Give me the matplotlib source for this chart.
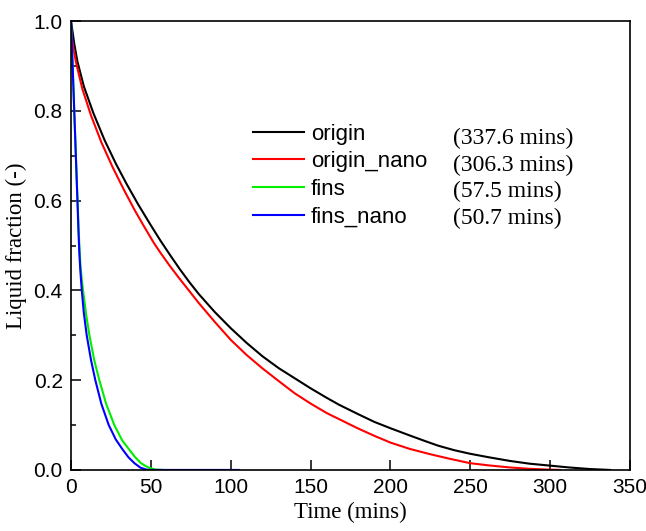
import matplotlib
matplotlib.use("Agg")
import matplotlib.pyplot as plt
from matplotlib.ticker import MultipleLocator

# liquid fraction vs time (mins)
origin_t = [0, 0.6, 2, 4, 8, 14, 21, 28, 35, 42, 50, 56, 62, 68, 74, 80, 90,
            100, 110, 120, 130, 142, 150, 160, 168, 180, 190, 200, 212, 222, 230,
            240, 250, 262, 275, 287, 300, 312, 325, 337.6]
origin_y = [1.0, 0.985, 0.95, 0.91, 0.855, 0.795, 0.735, 0.683, 0.636, 0.592, 0.545,
            0.511, 0.479, 0.448, 0.419, 0.392, 0.352, 0.316, 0.283, 0.253, 0.227,
            0.20, 0.182, 0.161, 0.145, 0.124, 0.107, 0.093, 0.077, 0.064, 0.054,
            0.044, 0.036, 0.028, 0.020, 0.014, 0.0096, 0.0055, 0.002, 0.0]

nano_t = [0, 0.5, 1.5, 3, 7, 12.5, 19, 26, 33, 40, 46, 52, 56, 62, 68, 80,
          90, 100, 110, 120, 129, 140, 150, 160, 168, 180, 190, 200, 212, 225, 237,
          250, 262, 275, 287, 297, 306.3]
nano_y = [0.98, 0.965, 0.94, 0.91, 0.85, 0.79, 0.73, 0.675, 0.625, 0.578, 0.541,
          0.505, 0.484, 0.454, 0.426, 0.372, 0.33, 0.29, 0.256, 0.226, 0.201,
          0.171, 0.148, 0.127, 0.113, 0.092, 0.076, 0.061, 0.047, 0.035, 0.025,
          0.015, 0.010, 0.0055, 0.0025, 0.001, 0.0]

fins_t = [0, 1, 2.7, 4, 5, 5.8, 6.7, 7.7, 9.5, 11.5, 14.5, 17.7, 22, 27.1, 32, 36.5,
          40, 43.8, 48, 52.6, 57.5]
fins_y = [1.0, 0.90, 0.73, 0.605, 0.515, 0.46, 0.425, 0.395, 0.345, 0.30, 0.245,
          0.20, 0.147, 0.10, 0.066, 0.045, 0.029, 0.015, 0.006, 0.001, 0.0]

fins_nano_t = [0, 1, 2.7, 4, 4.6, 5.2, 5.8, 6.7, 8, 9.8, 12.5, 15.2, 19, 23.6, 28,
               32.4, 36, 39.7, 43.5, 47.4, 50.7, 105]
fins_nano_y = [1.0, 0.90, 0.73, 0.60, 0.535, 0.483, 0.445, 0.401, 0.35, 0.30, 0.245,
               0.20, 0.147, 0.10, 0.068, 0.045, 0.028, 0.015, 0.005, 0.0005, 0.0, 0.0]

labels = ["origin", "origin_nano", "fins", "fins_nano"]
melt_times = ["(337.6 mins)", "(306.3 mins)", "(57.5 mins)", "(50.7 mins)"]
colors = ["black", "red", "#00ee00", "blue"]

fig = plt.figure(figsize=(6.46, 5.31), dpi=100)
ax = fig.add_axes([0.110, 0.115, 0.865, 0.845])

series = [(origin_t, origin_y), (nano_t, nano_y), (fins_t, fins_y), (fins_nano_t, fins_nano_y)]
for (t, y), lab, c in zip(series, labels, colors):
    ax.plot(t, y, color=c, lw=1.5, label=lab)

ax.set_xlim(0, 350)
ax.set_ylim(0, 1.0)
ax.xaxis.set_major_locator(MultipleLocator(50))
ax.yaxis.set_major_locator(MultipleLocator(0.2))
ax.yaxis.set_minor_locator(MultipleLocator(0.1))
ax.tick_params(which="both", direction="in", top=False, right=False,
               labelsize=15, width=1.1)
ax.tick_params(which="major", length=7, pad=6)
ax.tick_params(which="minor", length=3.5)
for lab in ax.get_xticklabels() + ax.get_yticklabels():
    lab.set_fontfamily("Liberation Sans")
for sp in ax.spines.values():
    sp.set_linewidth(1.2)

ax.set_xlabel("Time (mins)", fontsize=16.5, fontfamily="Liberation Serif", labelpad=3)
ax.set_ylabel("Liquid fraction (-)", fontsize=16.5, fontfamily="Liberation Serif", labelpad=5)

ax.legend(loc="upper left", bbox_to_anchor=(0.326, 0.772), frameon=False,
          prop={"family": "Liberation Sans", "size": 16}, handlelength=2.3,
          handletextpad=0.3, labelspacing=0.3, borderpad=0, borderaxespad=0)

row_y = [0.739, 0.679, 0.62, 0.56]
for yy, txt in zip(row_y, melt_times):
    ax.text(0.683, yy, txt, transform=ax.transAxes, fontsize=17,
            fontfamily="Liberation Serif", va="center", ha="left")

fig.savefig("out.png", dpi=100)
